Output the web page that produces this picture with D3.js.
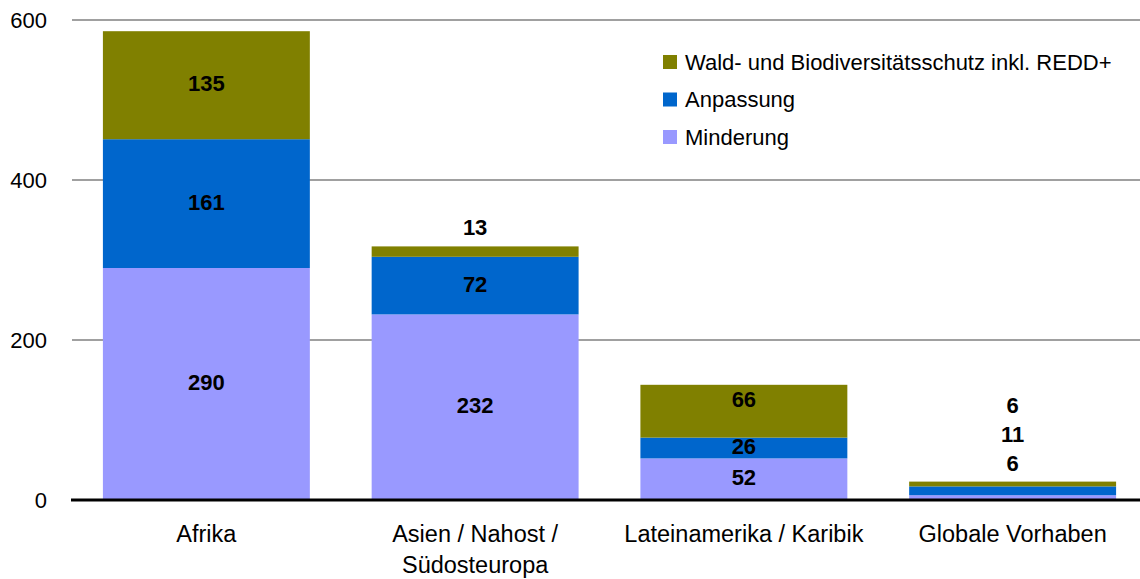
<!DOCTYPE html>
<html>
<head>
<meta charset="utf-8">
<script src="https://cdn.jsdelivr.net/npm/d3@7"></script>
<style>
  body { margin: 0; background: #fff; }
  text { font-family: "Liberation Sans", Arial, sans-serif; }
</style>
</head>
<body>
<div id="chart"></div>
<script>
// data
var categories = ["Afrika", "Asien / Nahost / Südosteuropa", "Lateinamerika / Karibik", "Globale Vorhaben"];
var categoryLines = [["Afrika"], ["Asien / Nahost /", "Südosteuropa"], ["Lateinamerika / Karibik"], ["Globale Vorhaben"]];
var seriesNames = ["Minderung", "Anpassung", "Wald- und Biodiversitätsschutz inkl. REDD+"];
var minderung = [290, 232, 52, 6];
var anpassung = [161, 72, 26, 11];
var wald = [135, 13, 66, 6];
var yTicks = [0, 200, 400, 600];

var colors = ["#9999ff", "#0066cc", "#808000"];

var width = 1140, height = 579;
var svg = d3.select("#chart").append("svg").attr("width", width).attr("height", height);

var x = d3.scaleBand()
    .domain(categories)
    .range([72, 1147])
    .paddingInner(0.23)
    .paddingOuter(0.115);

var y = d3.scaleLinear()
    .domain([0, 600])
    .range([500, 20]);

// gridlines
svg.selectAll(".grid")
  .data(yTicks.filter(function(d) { return d > 0; }))
  .enter().append("line")
    .attr("x1", 72).attr("x2", width)
    .attr("y1", function(d) { return y(d); })
    .attr("y2", function(d) { return y(d); })
    .attr("stroke", "#808080")
    .attr("stroke-width", 1.3);

// y tick labels
svg.selectAll(".ytick")
  .data(yTicks)
  .enter().append("text")
    .attr("x", 47)
    .attr("y", function(d) { return y(d); })
    .attr("dy", "0.36em")
    .attr("text-anchor", "end")
    .style("font-size", "22px")
    .text(function(d) { return d; });

var rows = categories.map(function(c, i) {
  return { cat: c, s0: minderung[i], s1: anpassung[i], s2: wald[i] };
});
var stack = d3.stack().keys(["s0", "s1", "s2"]);
var layers = stack(rows);

var g = svg.append("g");
layers.forEach(function(layer, li) {
  g.selectAll(".bar" + li)
    .data(layer)
    .enter().append("rect")
      .attr("x", function(d) { return x(d.data.cat); })
      .attr("width", x.bandwidth())
      .attr("y", function(d) { return y(d[1]); })
      .attr("height", function(d) { return y(d[0]) - y(d[1]); })
      .attr("fill", colors[li]);
});

// value labels: inside the segment, or stacked above the bar if too thin
var nudge = { "2-2": -10 };
categories.forEach(function(c, ci) {
  var total = layers[2][ci][1];
  var top = y(total);
  var k = 0;
  layers.forEach(function(layer, li) {
    var d = layer[ci];
    var h = y(d[0]) - y(d[1]);
    var ly;
    if (h < 20) {
      ly = top - 19 - 29 * k;
      k++;
    } else {
      ly = (y(d[0]) + y(d[1])) / 2 - 2 + (nudge[ci + "-" + li] || 0);
    }
    svg.append("text")
      .attr("x", x(c) + x.bandwidth() / 2)
      .attr("y", ly)
      .attr("dy", "0.36em")
      .attr("text-anchor", "middle")
      .style("font-size", "22px")
      .style("font-weight", "bold")
      .text(d[1] - d[0]);
  });
});

// baseline
svg.append("line")
  .attr("x1", 71).attr("x2", width)
  .attr("y1", y(0)).attr("y2", y(0))
  .attr("stroke", "#000")
  .attr("stroke-width", 3);

// category labels
categories.forEach(function(c, i) {
  var t = svg.append("text")
    .attr("x", x(c) + x.bandwidth() / 2)
    .attr("y", 542)
    .attr("text-anchor", "middle")
    .style("font-size", "23.5px");
  categoryLines[i].forEach(function(line, j) {
    t.append("tspan")
      .attr("x", x(c) + x.bandwidth() / 2)
      .attr("dy", j === 0 ? 0 : 31)
      .text(line);
  });
});

// legend (reverse order)
var legendOrder = [2, 1, 0];
var legend = svg.selectAll(".legend")
  .data(legendOrder)
  .enter().append("g")
    .attr("transform", function(d, i) { return "translate(663," + (62 + i * 37.5) + ")"; });
legend.append("rect")
  .attr("x", 0).attr("y", -7)
  .attr("width", 14).attr("height", 14)
  .attr("fill", function(d) { return colors[d]; });
legend.append("text")
  .attr("x", 22)
  .attr("dy", "0.36em")
  .style("font-size", "22px")
  .text(function(d) { return seriesNames[d]; });
</script>
</body>
</html>
